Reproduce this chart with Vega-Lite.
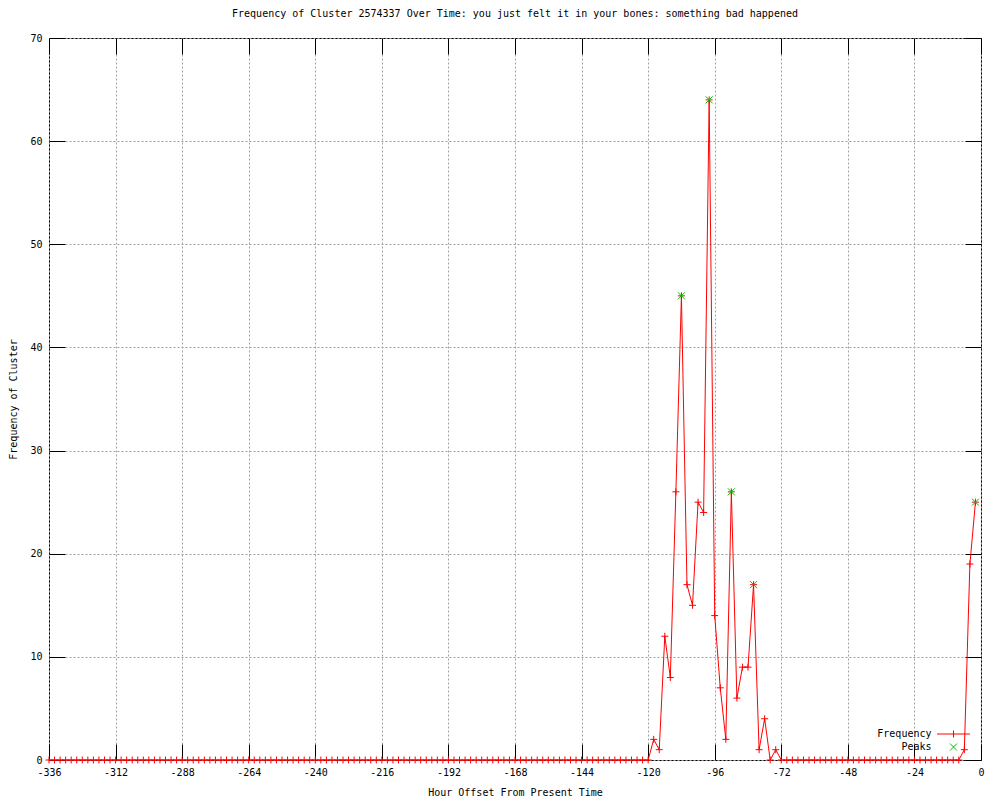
{
  "$schema": "https://vega.github.io/schema/vega-lite/v6.json",
  "autosize": {"type": "none"},
  "padding": {"left": 49, "top": 38, "right": 19, "bottom": 40},
  "width": 932,
  "height": 722,
  "background": "white",
  "config": {
    "view": {"stroke": "black", "strokeWidth": 1},
    "font": "DejaVu Sans Mono",
    "axis": {"labelFont": "DejaVu Sans Mono", "titleFont": "DejaVu Sans Mono", "labelFontSize": 10, "titleFontSize": 10, "titleFontWeight": "normal", "labelColor": "black", "titleColor": "black", "domain": false, "tickColor": "black", "tickWidth": 1, "tickSize": -16, "gridColor": "#a0a0a0", "gridDash": [2, 2], "gridWidth": 1, "gridOpacity": 1}
  },
  "title": {"text": "Frequency of Cluster 2574337 Over Time: you just felt it in your bones: something bad happened", "font": "DejaVu Sans Mono", "fontSize": 10, "fontWeight": "normal", "color": "black", "offset": 14},
  "datasets": {
    "freq": [
      {"hour": -336, "frequency": 0}, {"hour": -334, "frequency": 0}, {"hour": -332, "frequency": 0}, {"hour": -330, "frequency": 0}, {"hour": -328, "frequency": 0}, {"hour": -326, "frequency": 0}, {"hour": -324, "frequency": 0}, {"hour": -322, "frequency": 0}, {"hour": -320, "frequency": 0}, {"hour": -318, "frequency": 0}, {"hour": -316, "frequency": 0}, {"hour": -314, "frequency": 0}, {"hour": -312, "frequency": 0}, {"hour": -310, "frequency": 0}, {"hour": -308, "frequency": 0}, {"hour": -306, "frequency": 0}, {"hour": -304, "frequency": 0}, {"hour": -302, "frequency": 0}, {"hour": -300, "frequency": 0}, {"hour": -298, "frequency": 0}, {"hour": -296, "frequency": 0}, {"hour": -294, "frequency": 0}, {"hour": -292, "frequency": 0}, {"hour": -290, "frequency": 0}, {"hour": -288, "frequency": 0}, {"hour": -286, "frequency": 0}, {"hour": -284, "frequency": 0}, {"hour": -282, "frequency": 0}, {"hour": -280, "frequency": 0}, {"hour": -278, "frequency": 0}, {"hour": -276, "frequency": 0}, {"hour": -274, "frequency": 0}, {"hour": -272, "frequency": 0}, {"hour": -270, "frequency": 0}, {"hour": -268, "frequency": 0}, {"hour": -266, "frequency": 0}, {"hour": -264, "frequency": 0}, {"hour": -262, "frequency": 0}, {"hour": -260, "frequency": 0}, {"hour": -258, "frequency": 0}, {"hour": -256, "frequency": 0}, {"hour": -254, "frequency": 0}, {"hour": -252, "frequency": 0}, {"hour": -250, "frequency": 0}, {"hour": -248, "frequency": 0}, {"hour": -246, "frequency": 0}, {"hour": -244, "frequency": 0}, {"hour": -242, "frequency": 0}, {"hour": -240, "frequency": 0}, {"hour": -238, "frequency": 0}, {"hour": -236, "frequency": 0}, {"hour": -234, "frequency": 0}, {"hour": -232, "frequency": 0}, {"hour": -230, "frequency": 0}, {"hour": -228, "frequency": 0}, {"hour": -226, "frequency": 0}, {"hour": -224, "frequency": 0}, {"hour": -222, "frequency": 0}, {"hour": -220, "frequency": 0}, {"hour": -218, "frequency": 0}, {"hour": -216, "frequency": 0}, {"hour": -214, "frequency": 0}, {"hour": -212, "frequency": 0}, {"hour": -210, "frequency": 0}, {"hour": -208, "frequency": 0}, {"hour": -206, "frequency": 0}, {"hour": -204, "frequency": 0}, {"hour": -202, "frequency": 0}, {"hour": -200, "frequency": 0}, {"hour": -198, "frequency": 0}, {"hour": -196, "frequency": 0}, {"hour": -194, "frequency": 0}, {"hour": -192, "frequency": 0}, {"hour": -190, "frequency": 0}, {"hour": -188, "frequency": 0}, {"hour": -186, "frequency": 0}, {"hour": -184, "frequency": 0}, {"hour": -182, "frequency": 0}, {"hour": -180, "frequency": 0}, {"hour": -178, "frequency": 0}, {"hour": -176, "frequency": 0}, {"hour": -174, "frequency": 0}, {"hour": -172, "frequency": 0}, {"hour": -170, "frequency": 0}, {"hour": -168, "frequency": 0}, {"hour": -166, "frequency": 0}, {"hour": -164, "frequency": 0}, {"hour": -162, "frequency": 0}, {"hour": -160, "frequency": 0}, {"hour": -158, "frequency": 0}, {"hour": -156, "frequency": 0}, {"hour": -154, "frequency": 0}, {"hour": -152, "frequency": 0}, {"hour": -150, "frequency": 0}, {"hour": -148, "frequency": 0}, {"hour": -146, "frequency": 0}, {"hour": -144, "frequency": 0}, {"hour": -142, "frequency": 0}, {"hour": -140, "frequency": 0}, {"hour": -138, "frequency": 0}, {"hour": -136, "frequency": 0}, {"hour": -134, "frequency": 0}, {"hour": -132, "frequency": 0}, {"hour": -130, "frequency": 0}, {"hour": -128, "frequency": 0}, {"hour": -126, "frequency": 0}, {"hour": -124, "frequency": 0}, {"hour": -122, "frequency": 0}, {"hour": -120, "frequency": 0},
      {"hour": -118, "frequency": 2}, {"hour": -116, "frequency": 1}, {"hour": -114, "frequency": 12}, {"hour": -112, "frequency": 8}, {"hour": -110, "frequency": 26}, {"hour": -108, "frequency": 45}, {"hour": -106, "frequency": 17}, {"hour": -104, "frequency": 15}, {"hour": -102, "frequency": 25}, {"hour": -100, "frequency": 24}, {"hour": -98, "frequency": 64}, {"hour": -96, "frequency": 14}, {"hour": -94, "frequency": 7}, {"hour": -92, "frequency": 2}, {"hour": -90, "frequency": 26}, {"hour": -88, "frequency": 6}, {"hour": -86, "frequency": 9}, {"hour": -84, "frequency": 9}, {"hour": -82, "frequency": 17}, {"hour": -80, "frequency": 1}, {"hour": -78, "frequency": 4}, {"hour": -76, "frequency": 0}, {"hour": -74, "frequency": 1}, {"hour": -72, "frequency": 0},
      {"hour": -70, "frequency": 0}, {"hour": -68, "frequency": 0}, {"hour": -66, "frequency": 0}, {"hour": -64, "frequency": 0}, {"hour": -62, "frequency": 0}, {"hour": -60, "frequency": 0}, {"hour": -58, "frequency": 0}, {"hour": -56, "frequency": 0}, {"hour": -54, "frequency": 0}, {"hour": -52, "frequency": 0}, {"hour": -50, "frequency": 0}, {"hour": -48, "frequency": 0}, {"hour": -46, "frequency": 0}, {"hour": -44, "frequency": 0}, {"hour": -42, "frequency": 0}, {"hour": -40, "frequency": 0}, {"hour": -38, "frequency": 0}, {"hour": -36, "frequency": 0}, {"hour": -34, "frequency": 0}, {"hour": -32, "frequency": 0}, {"hour": -30, "frequency": 0}, {"hour": -28, "frequency": 0}, {"hour": -26, "frequency": 0}, {"hour": -24, "frequency": 0}, {"hour": -22, "frequency": 0}, {"hour": -20, "frequency": 0}, {"hour": -18, "frequency": 0}, {"hour": -16, "frequency": 0}, {"hour": -14, "frequency": 0}, {"hour": -12, "frequency": 0}, {"hour": -10, "frequency": 0}, {"hour": -8, "frequency": 0},
      {"hour": -6, "frequency": 1}, {"hour": -4, "frequency": 19}, {"hour": -2, "frequency": 25}
    ],
    "peaks": [
      {"hour": -108, "frequency": 45}, {"hour": -98, "frequency": 64}, {"hour": -90, "frequency": 26}, {"hour": -82, "frequency": 17}, {"hour": -2, "frequency": 25}
    ]
  },
  "layer": [
    {
      "data": {"name": "freq"},
      "mark": {"type": "line", "stroke": "#ff0000", "strokeWidth": 1, "clip": false},
      "encoding": {
        "x": {"field": "hour", "type": "quantitative", "scale": {"domain": [-336, 0], "nice": false, "zero": false},
              "axis": {"title": "Hour Offset From Present Time", "values": [-336, -312, -288, -264, -240, -216, -192, -168, -144, -120, -96, -72, -48, -24, 0], "labelExpr": "'' + datum.value", "labelPadding": 23, "titlePadding": 10, "grid": true, "orient": "bottom", "labelFlush": false, "labelOverlap": false}},
        "y": {"field": "frequency", "type": "quantitative", "scale": {"domain": [0, 70], "nice": false},
              "axis": {"title": "Frequency of Cluster", "values": [0, 10, 20, 30, 40, 50, 60, 70], "labelPadding": 23, "titlePadding": 11, "grid": true, "orient": "left", "labelFlush": false, "labelOverlap": false}}
      }
    },
    {
      "data": {"name": "freq"},
      "mark": {"type": "point", "shape": "M-1,0L1,0M0,-1L0,1", "size": 49, "filled": false, "stroke": "#ff0000", "strokeWidth": 1, "opacity": 1, "clip": false},
      "encoding": {
        "x": {"field": "hour", "type": "quantitative", "axis": null},
        "y": {"field": "frequency", "type": "quantitative", "axis": null}
      }
    },
    {
      "data": {"name": "peaks"},
      "mark": {"type": "point", "size": 49, "filled": false, "strokeWidth": 1, "opacity": 1, "clip": false},
      "encoding": {
        "x": {"field": "hour", "type": "quantitative",
              "axis": {"orient": "top", "labels": false, "grid": false, "title": null, "values": [-336, -312, -288, -264, -240, -216, -192, -168, -144, -120, -96, -72, -48, -24, 0]}},
        "y": {"field": "frequency", "type": "quantitative",
              "axis": {"orient": "right", "labels": false, "grid": false, "title": null, "values": [0, 10, 20, 30, 40, 50, 60, 70]}},
        "stroke": {"datum": "Peaks",
                   "scale": {"domain": ["Frequency", "Peaks"], "range": ["#ff0000", "#00c000"]},
                   "legend": {"title": null, "orient": "none", "legendX": 899.5, "legendY": 691, "rowPadding": 1, "padding": 0, "symbolSize": 49, "symbolStrokeWidth": 1, "labelAlign": "right", "labelOffset": -27, "labelFont": "DejaVu Sans Mono", "labelFontSize": 10, "labelColor": "black"}},
        "shape": {"datum": "Peaks",
                  "scale": {"domain": ["Frequency", "Peaks"], "range": ["M-4.7,0L4.7,0M0,-1L0,1", "M-1,-1L1,1M-1,1L1,-1"]},
                  "legend": {"title": null, "orient": "none", "legendX": 899.5, "legendY": 691, "rowPadding": 1, "padding": 0, "symbolSize": 49, "symbolStrokeWidth": 1, "labelAlign": "right", "labelOffset": -27, "labelFont": "DejaVu Sans Mono", "labelFontSize": 10, "labelColor": "black"}}
      }
    }
  ],
  "resolve": {"axis": {"x": "independent", "y": "independent"}}
}
